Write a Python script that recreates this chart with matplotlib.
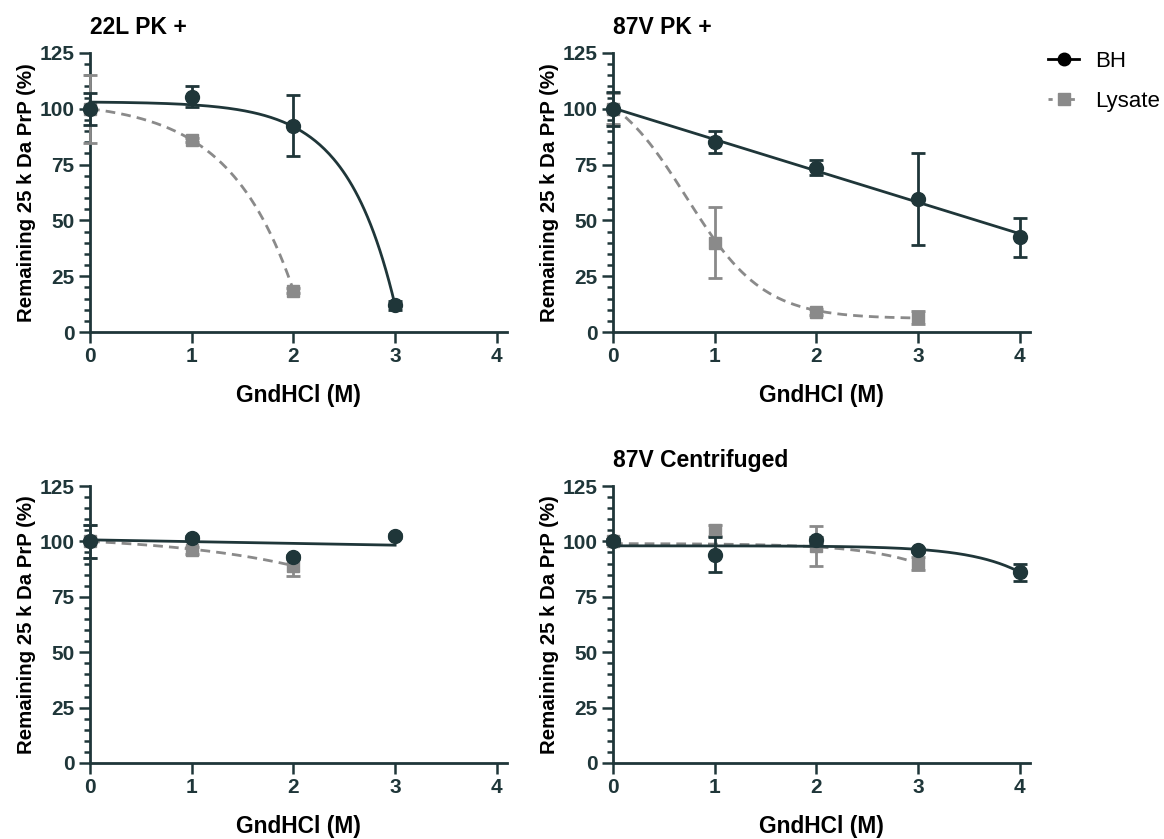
import numpy as np
import matplotlib as mpl
import matplotlib.pyplot as plt
from matplotlib.ticker import MultipleLocator
from matplotlib.lines import Line2D

plt.rcParams['font.family'] = ['Liberation Sans', 'DejaVu Sans']

dark = '#1f3639'
grey = '#8a8a8a'

# 22L PK +
x_22_bh = [0, 1, 2, 3]
bh_22 = [100, 105.5, 92.5, 12]
bh_22_err = [7.3, 4.5, 13.5, 2.0]
x_22_ly = [0, 1, 2]
ly_22 = [100, 86, 18.5]
ly_22_err = [15.3, 1.0, 1.0]

# 87V PK +
x_87_bh = [0, 1, 2, 3, 4]
bh_87 = [100, 85.2, 73.7, 59.6, 42.4]
bh_87_err = [7.5, 4.9, 3.5, 20.4, 8.6]
x_87_ly = [0, 1, 2, 3]
ly_87 = [100, 40, 9, 6.5]
ly_87_err = [7.0, 16.0, 1.5, 3.0]

# untitled panel
x_un_bh = [0, 1, 2, 3]
bh_un = [100, 101.5, 93, 102.5]
bh_un_err = [7.5, 1.0, 1.0, 1.0]
x_un_ly = [0, 1, 2]
ly_un = [100, 96, 89]
ly_un_err = [7.5, 1.5, 4.5]

# 87V Centrifuged
x_ce_bh = [0, 1, 2, 3, 4]
bh_ce = [100, 94, 100.5, 96, 86]
bh_ce_err = [1.0, 7.8, 1.5, 1.0, 3.8]
x_ce_ly = [0, 1, 2, 3]
ly_ce = [100, 105, 98, 90]
ly_ce_err = [1.0, 2.5, 9.0, 3.0]


def plateau_drop(x, top, b, u):
    return top - b * (u ** x - 1)


def boltzmann(x, bottom, top, x50, s):
    return bottom + (top - bottom) / (1 + np.exp((x - x50) / s))


def linear(x, a, b):
    return a + b * x


# fitted curve parameters (estimated)
fit_22_bh = (plateau_drop, (103, 0.168, 8.16))
fit_22_ly = (plateau_drop, (100, 3.66, 4.82))
fit_87_bh = (linear, tuple(np.polyfit(x_87_bh, bh_87, 1)[::-1]))
fit_87_ly = (boltzmann, (6, 115, 0.72, 0.38))
fit_un_bh = (linear, (100.7, -0.8))
fit_un_ly = (plateau_drop, (100, 3.07, 2.14))
fit_ce_bh = (plateau_drop, (98, 0.00396, 7.4))
fit_ce_ly = (plateau_drop, (99, 0.045, 5.85))


def draw_series(ax, x, y, err, fit, color, marker, ms, ls, z):
    f, p = fit
    xs = np.linspace(0, max(x), 200)
    ax.plot(xs, f(xs, *p), color=color, lw=2.0, ls=ls, zorder=z,
            clip_on=False)
    ax.errorbar(x, y, yerr=err, fmt=marker, color=color, ms=ms,
                elinewidth=2.0, capsize=5, capthick=2.0, zorder=z + 1,
                clip_on=False)


def style_axes(ax, title):
    ax.set_xlim(0, 4.1)
    ax.set_ylim(0, 125)
    ax.set_xticks([0, 1, 2, 3, 4])
    ax.set_yticks([0, 25, 50, 75, 100, 125])
    ax.yaxis.set_minor_locator(MultipleLocator(5))
    for s in ['top', 'right']:
        ax.spines[s].set_visible(False)
    for s in ['left', 'bottom']:
        ax.spines[s].set_linewidth(2.0)
        ax.spines[s].set_color(dark)
    ax.tick_params(which='major', length=8, width=1.8, color=dark,
                   labelcolor=dark, labelsize=15, pad=3)
    ax.tick_params(which='minor', length=4, width=1.8, color=dark)
    for lab in ax.get_xticklabels() + ax.get_yticklabels():
        lab.set_fontweight('bold')
    ax.set_xlabel('GndHCl (M)', fontsize=16.4, fontweight='bold',
                  labelpad=13)
    ax.set_ylabel('Remaining 25 k Da PrP (%)', fontsize=14.7,
                  fontweight='bold', labelpad=3)
    if title:
        ax.set_title(title, loc='left', fontsize=16.5, fontweight='bold',
                     pad=14)


fig = plt.figure(figsize=(11.64, 8.39), dpi=100)
W, H = 1164, 839
axw = (507 - 90) / W
axh = (332 - 53) / H
ax1 = fig.add_axes([90 / W, 1 - 332 / H, axw, axh])
ax2 = fig.add_axes([613 / W, 1 - 332 / H, axw, axh])
ax3 = fig.add_axes([90 / W, 1 - 763 / H, axw, (763 - 486) / H])
ax4 = fig.add_axes([613 / W, 1 - 763 / H, axw, (763 - 486) / H])

panels = [
    (ax1, '22L PK +', x_22_bh, bh_22, bh_22_err, fit_22_bh,
     x_22_ly, ly_22, ly_22_err, fit_22_ly),
    (ax2, '87V PK +', x_87_bh, bh_87, bh_87_err, fit_87_bh,
     x_87_ly, ly_87, ly_87_err, fit_87_ly),
    (ax3, '', x_un_bh, bh_un, bh_un_err, fit_un_bh,
     x_un_ly, ly_un, ly_un_err, fit_un_ly),
    (ax4, '87V Centrifuged', x_ce_bh, bh_ce, bh_ce_err, fit_ce_bh,
     x_ce_ly, ly_ce, ly_ce_err, fit_ce_ly),
]

for ax, title, xb, yb, eb, fb, xl, yl, el, fl in panels:
    draw_series(ax, xl, yl, el, fl, grey, 's', 8.5, (0, (3.5, 2.2)), 3)
    draw_series(ax, xb, yb, eb, fb, dark, 'o', 10, '-', 5)
    style_axes(ax, title)

handles = [
    Line2D([], [], color='black', lw=2.0, marker='o', ms=9),
    Line2D([], [], color=grey, lw=2.0, ls=(0, (1.5, 2.5)), marker='s', ms=8),
]
fig.legend(handles, ['BH', 'Lysate'], loc='upper left',
           bbox_to_anchor=(1048 / W, 1 - 51 / H), frameon=False,
           fontsize=16, handlelength=1.4, handletextpad=0.7,
           labelspacing=0.85, borderpad=0, borderaxespad=0)

plt.savefig('out.png', dpi=100)
plt.close()
